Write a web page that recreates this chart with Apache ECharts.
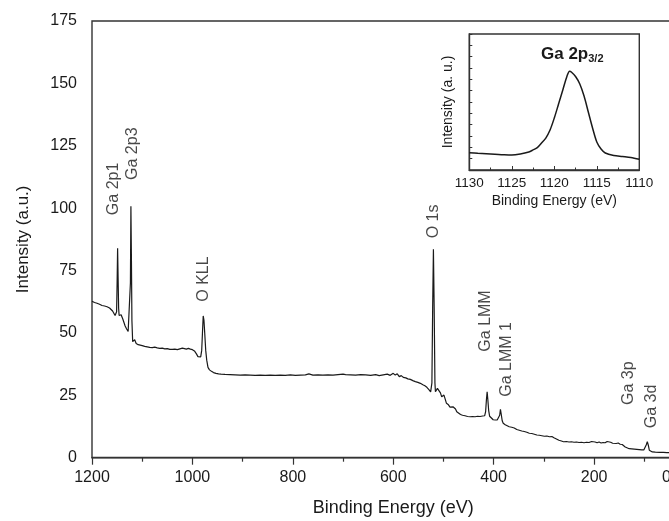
<!DOCTYPE html>
<html>
<head>
<meta charset="utf-8">
<script src="https://cdn.jsdelivr.net/npm/echarts@6/dist/echarts.min.js"></script>
<style>
  html, body { margin: 0; padding: 0; background: #fff; }
  #chart { width: 669px; height: 521px; }
</style>
</head>
<body>
<div id="chart"></div>
<script>
// XPS survey spectrum: [binding energy (eV), intensity (a.u.)]
var surveyPoints = [
  [1200, 62.7], [1195, 62.2], [1190, 61.9], [1185, 61.5], [1180, 61.0], [1175, 60.8],
  [1170, 60.5], [1165, 60.0], [1162, 59.6], [1159, 58.8], [1156, 58.0], [1154, 57.0],
  [1152.5, 56.6], [1151, 58.5], [1150, 70], [1149, 83.9], [1148, 72], [1147, 60],
  [1146, 57.0], [1144, 56.6], [1142, 57.3], [1140, 57.6], [1138.5, 55.5], [1136, 54.0],
  [1134, 52.8], [1131, 51.6], [1128, 50.6], [1126, 49.8], [1124.5, 50.5], [1123.5, 70],
  [1122.5, 100.8], [1121.5, 80], [1120.5, 55], [1119, 46.5], [1117, 45.8], [1115, 47.3],
  [1113.5, 46.8], [1112, 45.8], [1108, 45.3], [1104, 45.1], [1100, 44.9], [1095, 44.6],
  [1090, 44.4], [1085, 44.2], [1080, 44.1], [1075, 44.3], [1070, 44.0], [1065, 43.8],
  [1060, 43.9], [1055, 43.6], [1050, 43.7], [1045, 43.4], [1040, 43.4], [1035, 43.5],
  [1030, 43.3], [1025, 43.6], [1020, 43.9], [1016, 43.7], [1012, 43.5], [1008, 43.8],
  [1004, 43.5], [1000, 43.3], [996, 42.8], [992, 41.6], [989, 40.5], [986, 40.0],
  [983.5, 40.4], [981.5, 43], [980, 50], [978.5, 56.8], [977, 55], [975.5, 50],
  [973.5, 43], [971.5, 39.1], [969, 36.2], [966, 35.2], [962, 34.6], [958, 34.1],
  [953, 33.8], [948, 33.6], [943, 33.5], [935, 33.4], [925, 33.3], [915, 33.2],
  [905, 33.1], [895, 33.2], [885, 33.1], [875, 33.0], [865, 33.1], [855, 33.0],
  [845, 33.1], [835, 33.0], [825, 33.1], [815, 33.0], [805, 33.2], [795, 33.0],
  [785, 33.1], [775, 33.2], [768, 33.6], [765, 33.2], [760, 33.1], [750, 33.2],
  [740, 33.1], [730, 33.2], [720, 33.1], [710, 33.3], [700, 33.5], [695, 33.3],
  [685, 33.2], [675, 33.1], [665, 33.3], [655, 33.2], [645, 33.0], [635, 33.3],
  [628, 32.9], [620, 33.2], [612, 33.5], [606, 33.0], [600, 33.8], [596, 33.1],
  [592, 33.6], [588, 32.5], [584, 32.9], [580, 32.2], [575, 32.0], [571, 31.6],
  [566, 31.4], [561, 30.9], [556, 30.5], [551, 30.2], [546, 29.8], [541, 29.2],
  [537, 28.8], [533, 28.2], [529, 27.3], [525.5, 26.4], [523, 30], [521.5, 60],
  [520, 83.5], [518.5, 60], [517, 30], [516, 26.4], [514, 27.0], [512, 27.8],
  [509, 28.2], [506, 26.0], [503.5, 24.4], [501, 24.6], [499, 25.1], [497, 23.8],
  [494, 21.8], [490, 21.2], [487, 20.3], [484, 19.8], [481, 20.4], [479, 20.7],
  [476, 19.5], [473.5, 18.4], [470, 17.8], [466, 17.3], [462, 17.0], [457, 16.8],
  [452, 16.5], [447, 16.4], [442, 16.5], [437, 16.4], [432, 16.6], [427, 16.5],
  [422, 16.7], [418, 16.8], [416, 18.5], [414.5, 23], [413, 26.4], [411.5, 23],
  [410, 19], [408, 16.6], [405, 16.0], [401, 15.2], [397, 15.1], [393, 15.1],
  [390, 15.3], [388, 17], [386.5, 19.4], [385, 17.5], [383, 14.8], [381, 13.8],
  [377, 13.2], [373, 12.8], [369, 12.4], [364, 12.2], [359, 11.9], [354, 11.3],
  [349, 11.0], [344, 10.7], [339, 10.5], [334, 10.2], [329, 9.8], [324, 9.7],
  [319, 9.4], [314, 9.1], [309, 9.0], [304, 8.8], [299, 8.6], [294, 8.7],
  [289, 8.4], [284, 8.5], [280, 8.0], [275, 7.5], [270, 7.0], [265, 6.7],
  [261, 6.4], [255, 6.5], [250, 6.3], [245, 6.4], [240, 6.2], [235, 6.3],
  [230, 6.1], [225, 6.2], [220, 6.0], [215, 6.2], [210, 6.1], [205, 6.5],
  [202, 6.2], [198, 6.3], [194, 6.0], [190, 6.3], [186, 5.9], [182, 6.1],
  [178, 6.0], [174, 6.5], [171, 6.0], [167, 6.2], [163, 5.8], [160, 6.2],
  [156, 5.7], [152, 5.9], [148, 5.4], [144, 5.3], [141, 5.1], [138, 4.3],
  [135, 3.8], [130, 3.6], [125, 3.5], [120, 3.4], [115, 3.3], [110, 3.2],
  [105, 3.1], [101, 3.1], [98, 3.6], [96, 5.2], [94, 6.4], [92, 5.0],
  [90, 3.0], [88, 2.5], [84, 2.3], [78, 2.2], [70, 2.1], [62, 2.1],
  [55, 2.0], [48, 2.0], [40, 1.9], [30, 1.9], [20, 1.8], [10, 1.8], [0, 1.8]
];

// Peak assignments: [label, binding energy where the label sits, intensity at its foot]
var peakLabels = [
  ['Ga 2p1', 1157.6, 97.2],
  ['Ga 2p3', 1119.7, 111.3],
  ['O KLL', 978.3, 62.5],
  ['O 1s', 520.2, 87.9],
  ['Ga LMM', 415.3, 42.5],
  ['Ga LMM 1', 374.0, 24.4],
  ['Ga 3p', 130.5, 21.1],
  ['Ga 3d', 85.2, 11.8]
];

// High-resolution Ga 2p3/2 region: [binding energy (eV), intensity (a.u.)]
var detailPoints = [
  [1130, 1.53], [1129, 1.48], [1128, 1.44], [1127, 1.40], [1126, 1.35], [1125, 1.32],
  [1124, 1.41], [1123, 1.59], [1122.5, 1.77], [1122, 1.97], [1121.5, 2.38], [1121, 2.82],
  [1120.5, 3.53], [1120, 4.59], [1119.5, 5.82], [1119, 7.06], [1118.5, 8.30], [1118.2, 8.71],
  [1118, 8.65], [1117.5, 8.25], [1117, 7.59], [1116.5, 6.53], [1116, 5.12], [1115.5, 3.71],
  [1115, 2.47], [1114.5, 1.85], [1114, 1.50], [1113, 1.28], [1112, 1.19], [1111, 1.10],
  [1110, 0.94]
];

var surveyTicks = { min: 0, max: 1200, step: 200 };
var intensityTicks = { min: 0, max: 175, step: 25 };
var detailTicks = { min: 1110, max: 1130, step: 5 };

var FONT = "'Liberation Sans', Arial, Helvetica, sans-serif";
var INK = '#1a1a1a';
var AXIS = '#333333';

function plainNumber(v) { return String(v); }

var chart = echarts.init(document.getElementById('chart'), null, { renderer: 'canvas' });

var option = {
  animation: false,
  backgroundColor: '#ffffff',
  title: {
    text: '{a|Ga 2p}{b|3/2}',
    left: 536,
    top: 39,
    textStyle: {
      rich: {
        a: { fontFamily: FONT, fontSize: 17, fontWeight: 'bold', color: INK, lineHeight: 20 },
        b: { fontFamily: FONT, fontSize: 11, fontWeight: 'bold', color: INK, lineHeight: 12, verticalAlign: 'bottom' }
      }
    }
  },
  grid: [
    {
      left: 92, top: 21, right: -25.5, bottom: 63.3,
      outerBoundsMode: 'none', containLabel: false,
      show: true, borderColor: AXIS, borderWidth: 1.4, backgroundColor: 'transparent'
    },
    {
      left: 469.3, top: 34, width: 170, height: 136,
      outerBoundsMode: 'none', containLabel: false,
      show: true, borderColor: AXIS, borderWidth: 1.4, backgroundColor: '#ffffff'
    }
  ],
  xAxis: [
    {
      gridIndex: 0, type: 'value', inverse: true,
      min: surveyTicks.min, max: surveyTicks.max, interval: surveyTicks.step,
      name: 'Binding Energy (eV)', nameLocation: 'middle', nameGap: 41,
      nameTextStyle: { fontFamily: FONT, fontSize: 18, color: INK },
      axisLine: { lineStyle: { color: AXIS, width: 1.4 } },
      axisTick: { inside: false, length: 7, lineStyle: { color: AXIS, width: 1.2 } },
      minorTick: { show: true, splitNumber: 2, length: 4, lineStyle: { color: AXIS, width: 1.2 } },
      splitLine: { show: false },
      axisLabel: {
        margin: 12, fontFamily: FONT, fontSize: 16, color: INK,
        formatter: function (v) { return v === 0 ? '{edge|0}' : String(v); },
        rich: { edge: { fontFamily: FONT, fontSize: 16, color: INK, padding: [0, 56, 0, 0] } }
      }
    },
    {
      gridIndex: 1, type: 'value', inverse: true,
      min: detailTicks.min, max: detailTicks.max, interval: detailTicks.step,
      name: 'Binding Energy (eV)', nameLocation: 'middle', nameGap: 24,
      nameTextStyle: { fontFamily: FONT, fontSize: 14, color: INK },
      axisLine: { lineStyle: { color: AXIS, width: 1.4 } },
      axisTick: { inside: true, length: 4, lineStyle: { color: AXIS, width: 1 } },
      minorTick: { show: true, splitNumber: 2, length: 2.5, lineStyle: { color: AXIS, width: 1 } },
      splitLine: { show: false },
      axisLabel: { margin: 6, fontFamily: FONT, fontSize: 13.5, color: INK, formatter: plainNumber }
    }
  ],
  yAxis: [
    {
      gridIndex: 0, type: 'value',
      min: intensityTicks.min, max: intensityTicks.max, interval: intensityTicks.step,
      name: 'Intensity (a.u.)', nameLocation: 'middle', nameGap: 60,
      nameTextStyle: { fontFamily: FONT, fontSize: 17, color: INK },
      axisLine: { show: true, lineStyle: { color: AXIS, width: 1.4 } },
      axisTick: { inside: false, length: 7, lineStyle: { color: AXIS, width: 1.2 } },
      minorTick: { show: true, splitNumber: 2, length: 4, lineStyle: { color: AXIS, width: 1.2 } },
      splitLine: { show: false },
      axisLabel: { margin: 15, fontFamily: FONT, fontSize: 16, color: INK, formatter: plainNumber }
    },
    {
      gridIndex: 1, type: 'value', min: 0, max: 12, interval: 1,
      name: 'Intensity (a. u.)', nameLocation: 'middle', nameGap: 14,
      nameTextStyle: { fontFamily: FONT, fontSize: 14, color: INK },
      axisLine: { show: true, lineStyle: { color: AXIS, width: 1.4 } },
      axisTick: { inside: true, length: 3, lineStyle: { color: AXIS, width: 1 } },
      splitLine: { show: false },
      axisLabel: { show: false }
    }
  ],
  series: [
    {
      type: 'line', xAxisIndex: 0, yAxisIndex: 0,
      data: surveyPoints, showSymbol: false, symbol: 'none',
      lineStyle: { color: INK, width: 1.2 }, z: 3
    },
    {
      type: 'scatter', xAxisIndex: 0, yAxisIndex: 0,
      data: peakLabels.map(function (p) { return { name: p[0], value: [p[1], p[2]] }; }),
      symbolSize: 0, silent: true,
      label: {
        show: true, position: [0, 0], rotate: 90,
        align: 'left', verticalAlign: 'middle',
        fontFamily: FONT, fontSize: 16, color: INK,
        formatter: function (p) { return p.name; }
      }, z: 4
    },
    {
      type: 'line', xAxisIndex: 1, yAxisIndex: 1,
      data: detailPoints, showSymbol: false, symbol: 'none', smooth: 0.3,
      lineStyle: { color: INK, width: 1.5 }, z: 5
    }
  ]
};

chart.setOption(option);
</script>
</body>
</html>
